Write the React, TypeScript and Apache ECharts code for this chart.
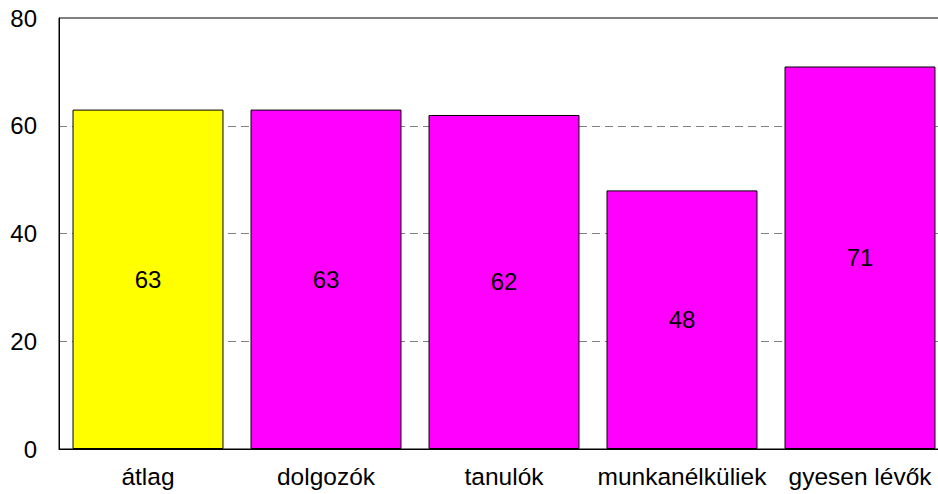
import React, { useEffect, useRef } from "react";
import * as echarts from "echarts";

const categories = ["átlag", "dolgozók", "tanulók", "munkanélküliek", "gyesen lévők"];
const values = [63, 63, 62, 48, 71];
const barColors = ["#FFFF00", "#FF00FF", "#FF00FF", "#FF00FF", "#FF00FF"];

export default function App() {
  const ref = useRef<HTMLDivElement>(null);
  useEffect(() => {
    if (!ref.current) return;
    const chart = echarts.init(ref.current, undefined, { renderer: "svg" });
    const font = "'Liberation Sans', Arial, sans-serif";
    chart.setOption({
      animation: false,
      backgroundColor: "#ffffff",
      textStyle: { fontFamily: font },
      grid: {
        left: 59,
        top: 18,
        width: 890,
        height: 431,
        show: true,
        borderColor: "#000000",
        borderWidth: 1,
        backgroundColor: "transparent",
        outerBoundsMode: "none",
        containLabel: false,
      },
      xAxis: {
        type: "category",
        data: categories,
        axisLine: { show: true, lineStyle: { color: "#000000", width: 1 } },
        axisTick: { show: false },
        axisLabel: { color: "#000000", fontSize: 24.5, fontFamily: font, margin: 15, interval: 0 },
        splitLine: { show: false },
      },
      yAxis: {
        type: "value",
        min: 0,
        max: 80,
        interval: 20,
        axisLine: { show: true, lineStyle: { color: "#000000", width: 1 } },
        axisTick: { show: false },
        axisLabel: { color: "#000000", fontSize: 24, fontFamily: font, margin: 22, padding: [3, 0, 0, 0] },
        splitLine: {
          show: true,
          lineStyle: {
            color: ["transparent", "#808080", "#808080", "#808080", "transparent"],
            type: [8, 5],
            width: 1,
          },
        },
      },
      series: [
        {
          type: "bar",
          data: values.map((v, i) => ({ value: v, itemStyle: { color: barColors[i] } })),
          barCategoryGap: "15.2%",
          itemStyle: { borderColor: "#000000", borderWidth: 1 },
          label: {
            show: true,
            position: "inside",
            color: "#000000",
            fontSize: 24,
            fontFamily: font,
          },
          z: 3,
        },
      ],
    });
    return () => chart.dispose();
  }, []);
  return (
    <div
      ref={ref}
      style={{ position: "absolute", left: 0, top: 0, width: 938, height: 494 }}
    />
  );
}
